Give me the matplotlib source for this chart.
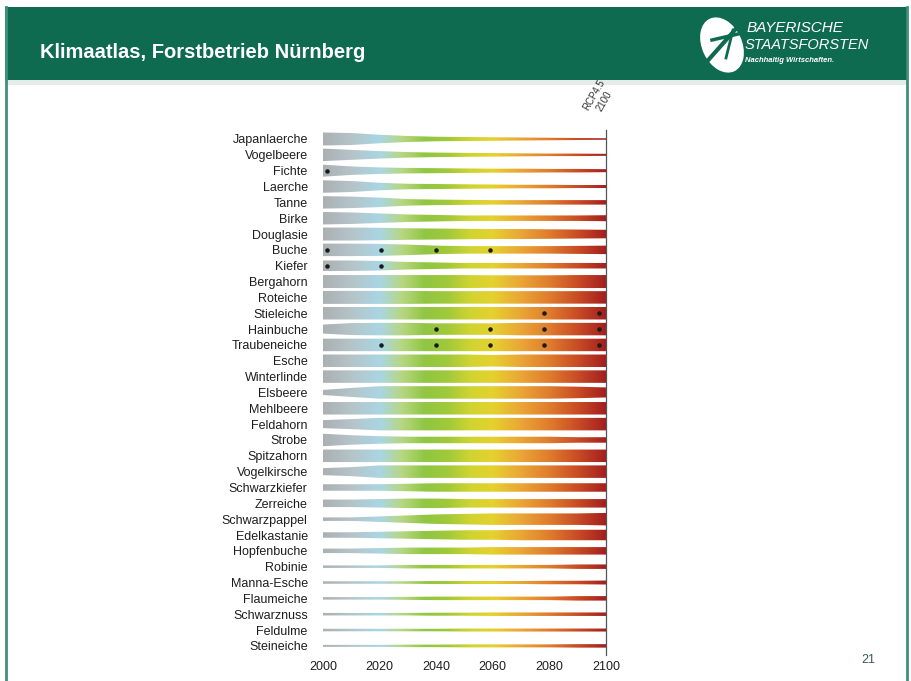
import numpy as np
import matplotlib
matplotlib.use("Agg")
import matplotlib.pyplot as plt
from matplotlib.colors import LinearSegmentedColormap
from matplotlib.path import Path
from matplotlib.patches import PathPatch, Rectangle, Ellipse

plt.rcParams['font.family'] = ['Liberation Sans', 'DejaVu Sans']

# species, top to bottom
species = ["Japanlaerche", "Vogelbeere", "Fichte", "Laerche", "Tanne", "Birke",
           "Douglasie", "Buche", "Kiefer", "Bergahorn", "Roteiche", "Stieleiche",
           "Hainbuche", "Traubeneiche", "Esche", "Winterlinde", "Elsbeere",
           "Mehlbeere", "Feldahorn", "Strobe", "Spitzahorn", "Vogelkirsche",
           "Schwarzkiefer", "Zerreiche", "Schwarzpappel", "Edelkastanie",
           "Hopfenbuche", "Robinie", "Manna-Esche", "Flaumeiche", "Schwarznuss",
           "Feldulme", "Steineiche"]

years = [2000, 2010, 2020, 2030, 2040, 2050, 2060, 2070, 2080, 2090, 2100]

# band thickness per decade (13 = full row)
thickness = [
    [13, 12, 8.5, 6, 4.5, 4, 3.5, 3, 2.5, 2, 1.5],
    [12.5, 10, 7.5, 5.5, 4.5, 4, 3.5, 3, 2.5, 2.5, 2],
    [12, 8.5, 6.5, 5.5, 5, 4.5, 4, 4, 3.5, 3.5, 3],
    [12.5, 11, 7.5, 5.5, 5, 4.5, 4, 3.5, 3.5, 3, 3],
    [12.5, 11.5, 9.5, 6.5, 5.5, 5, 4.5, 4.5, 4.5, 4.5, 4.5],
    [12.5, 11.5, 9.5, 7.5, 6.5, 5.5, 5.5, 5.5, 5.5, 5.5, 6],
    [13, 13, 12.5, 11.5, 11, 10.5, 10, 10, 9.5, 9, 8.5],
    [12.5, 12.5, 12, 10.5, 8.5, 7.5, 7.5, 7.5, 7.5, 8, 8.5],
    [10.5, 10.5, 9.5, 7.5, 6.5, 5.5, 5.5, 5.5, 5.5, 5.5, 5.5],
    [13, 13, 13, 13, 13, 13, 12.5, 12.5, 12.5, 13, 13],
    [13, 13, 13, 13, 12.5, 12.5, 12.5, 12.5, 12.5, 12.5, 12.5],
    [12.5, 12.5, 12.5, 12.5, 12.5, 12.5, 12.5, 12.5, 12.5, 12.5, 12.5],
    [9, 12, 12.5, 12.5, 11.5, 11.5, 11.5, 12.5, 12.5, 12.5, 12.5],
    [12.5, 12.5, 12.5, 12.5, 12.5, 12.5, 12.5, 12.5, 12.5, 12.5, 12.5],
    [12.5, 12.5, 12.5, 12.5, 12.5, 12.5, 11.5, 12.5, 12.5, 12.5, 12.5],
    [12.5, 12.5, 12.5, 12.5, 12.5, 12.5, 12.5, 12.5, 12.5, 12.5, 12.5],
    [5, 9, 12.5, 12.5, 12.5, 12.5, 12.5, 12.5, 12.5, 11.5, 10],
    [12.5, 12.5, 12.5, 12.5, 12.5, 12.5, 12.5, 12.5, 12.5, 12.5, 12.5],
    [8, 10, 12.5, 12.5, 12.5, 12.5, 12.5, 12.5, 12.5, 12.5, 12.5],
    [12.5, 9.5, 7.5, 6.5, 6.5, 6.5, 6.5, 6.5, 6.5, 5.5, 5.5],
    [12.5, 12.5, 12.5, 12.5, 12.5, 12.5, 12.5, 12.5, 12.5, 12.5, 12.5],
    [7, 9, 12.5, 12.5, 12.5, 12.5, 12.5, 12.5, 12.5, 12.5, 12.5],
    [6.5, 6.5, 6.5, 7.5, 8.5, 8.5, 8.5, 8.5, 8.5, 8.5, 8.5],
    [7.5, 7.5, 8.5, 9.5, 9.5, 8.5, 8.5, 8.5, 8.5, 8.5, 8.5],
    [3.5, 3.5, 5.5, 7.5, 9.5, 10.5, 11.5, 11.5, 11.5, 11.5, 12.5],
    [5.5, 5.5, 6.5, 7.5, 8.5, 9.5, 9.5, 10.5, 10.5, 10.5, 10.5],
    [4.5, 4.5, 5.5, 6.5, 6.5, 6.5, 7.5, 7.5, 7.5, 7.5, 7.5],
    [2.5, 2.5, 2.5, 3.5, 3.5, 3.5, 3.5, 3.5, 3.5, 4.5, 4.5],
    [2.5, 2.5, 2.5, 2.5, 3, 3, 3, 3, 3.5, 3.5, 4],
    [2.5, 2.5, 2.5, 3, 3.5, 3.5, 3.5, 3.5, 3.5, 4.5, 4.5],
    [2.5, 2.5, 2.5, 2.5, 3, 3, 3.5, 3.5, 3.5, 3.5, 3.5],
    [2.5, 2.5, 2.5, 2.5, 2.5, 3, 3, 3, 3, 3, 3],
    [2, 2, 2, 2.5, 2.5, 3, 3, 3, 3, 3.5, 3.5],
]

# black dots (species, year)
dot_species = ["Fichte", "Buche", "Buche", "Buche", "Buche", "Kiefer", "Kiefer",
               "Stieleiche", "Stieleiche", "Hainbuche", "Hainbuche", "Hainbuche",
               "Hainbuche", "Traubeneiche", "Traubeneiche", "Traubeneiche",
               "Traubeneiche", "Traubeneiche"]
dot_years = [2001.5, 2001.5, 2020.5, 2040, 2059, 2001.5, 2020.5,
             2078, 2097.5, 2040, 2059, 2078, 2097.5,
             2020.5, 2040, 2059, 2078, 2097.5]

xticks = [2000, 2020, 2040, 2060, 2080, 2100]

# colour ramp along time
ramp_years = [2000, 2010, 2020, 2028, 2036, 2044, 2052, 2060, 2070, 2080, 2090, 2100]
ramp_cols = ["#abb0b3", "#b5c4c9", "#a9d6e4", "#b7d680", "#90c642", "#a0c93a",
             "#cfd431", "#e5d12e", "#eaa636", "#df7d2d", "#c94c25", "#a3201e"]

W, H = 911, 681
fig = plt.figure(figsize=(W / 100, H / 100), dpi=100)

# slide background
bg = fig.add_axes([0, 0, 1, 1])
bg.set_xlim(0, W)
bg.set_ylim(H, 0)
bg.axis("off")
green = "#0f6b50"
bg.add_patch(Rectangle((5, 7), 902, 73, color=green, lw=0))
bg.add_patch(Rectangle((5, 80), 902, 5, color="#e6ecea", lw=0))
bg.plot([5.5, 5.5], [7, H], color="#3f8f7c", lw=2)
bg.plot([906.5, 906.5], [7, H], color="#3f8f7c", lw=2)
bg.text(40, 53, "Klimaatlas, Forstbetrieb Nürnberg", color="white",
        fontsize=14.5, fontweight="bold", va="center", ha="left")
# logo
bg.add_patch(Ellipse((722, 45), 40, 58, angle=-25, color="white", lw=0))
bg.plot([703, 742], [66, 22], color=green, lw=3)
bg.plot([712, 738], [40, 34], color=green, lw=2.5)
bg.plot([726, 733], [58, 30], color=green, lw=2)
bg.text(747, 28, "BAYERISCHE", color="white", fontsize=11, style="italic",
        va="center", ha="left")
bg.text(745, 45, "STAATSFORSTEN", color="white", fontsize=10.5, style="italic",
        va="center", ha="left")
bg.text(745, 61, "Nachhaltig Wirtschaften.", color="white", fontsize=5.5,
        style="italic", fontweight="bold", va="center", ha="left")
bg.text(868, 660, "21", color="#3d5a55", fontsize=9, ha="center", va="center")

# chart
row_px = 15.84
top_px, bot_px = 130, 655
ax = fig.add_axes([323 / W, 1 - bot_px / H, 283 / W, (bot_px - top_px) / H])
n = len(species)
y_top = -(139 - top_px) / row_px
y_bot = (n - 1) + (bot_px - 139 - (n - 1) * row_px) / row_px

yrs = np.array(years, dtype=float)
polys = []
for i, th in enumerate(thickness):
    hw = np.array(th) / row_px / 2
    xs = np.concatenate([yrs, yrs[::-1]])
    ys = np.concatenate([i - hw, (i + hw)[::-1]])
    polys.append(Path(np.column_stack([xs, ys]), closed=False))
compound = Path.make_compound_path(*polys)

cmap = LinearSegmentedColormap.from_list(
    "klima", [((y - 2000) / 100, c) for y, c in zip(ramp_years, ramp_cols)])
grad = np.linspace(0, 1, 512).reshape(1, -1)
im = ax.imshow(grad, cmap=cmap, aspect="auto", extent=[2000, 2100, y_bot, y_top],
               interpolation="bilinear")
patch = PathPatch(compound, transform=ax.transData, facecolor="none", edgecolor="none")
ax.add_patch(patch)
im.set_clip_path(patch)

# dots
dy = [species.index(s) for s in dot_species]
ax.scatter(dot_years, dy, s=5, color="#1a1a1a", zorder=3)

ax.axvline(2100, color="#555555", lw=0.9, zorder=4, clip_on=False)

ax.set_xlim(2000, 2100)
ax.set_ylim(y_bot, y_top)
ax.set_xticks(xticks)
ax.set_xticklabels([str(t) for t in xticks], fontsize=9, color="#1e1e1e")
ax.set_yticks(range(n))
ax.set_yticklabels(species, fontsize=9, color="#1e1e1e")
ax.tick_params(length=0)
ax.tick_params(axis="y", pad=11)
ax.tick_params(axis="x", pad=4)
for s in ax.spines.values():
    s.set_visible(False)
ax.set_facecolor("none")

fig.text(599 / W, 1 - 98 / H, "RCP4.5\n2100", rotation=60, fontsize=7,
         ha="center", va="center", multialignment="center", color="#333333",
         linespacing=1.3, rotation_mode="anchor")

fig.savefig("out.png", dpi=100)
